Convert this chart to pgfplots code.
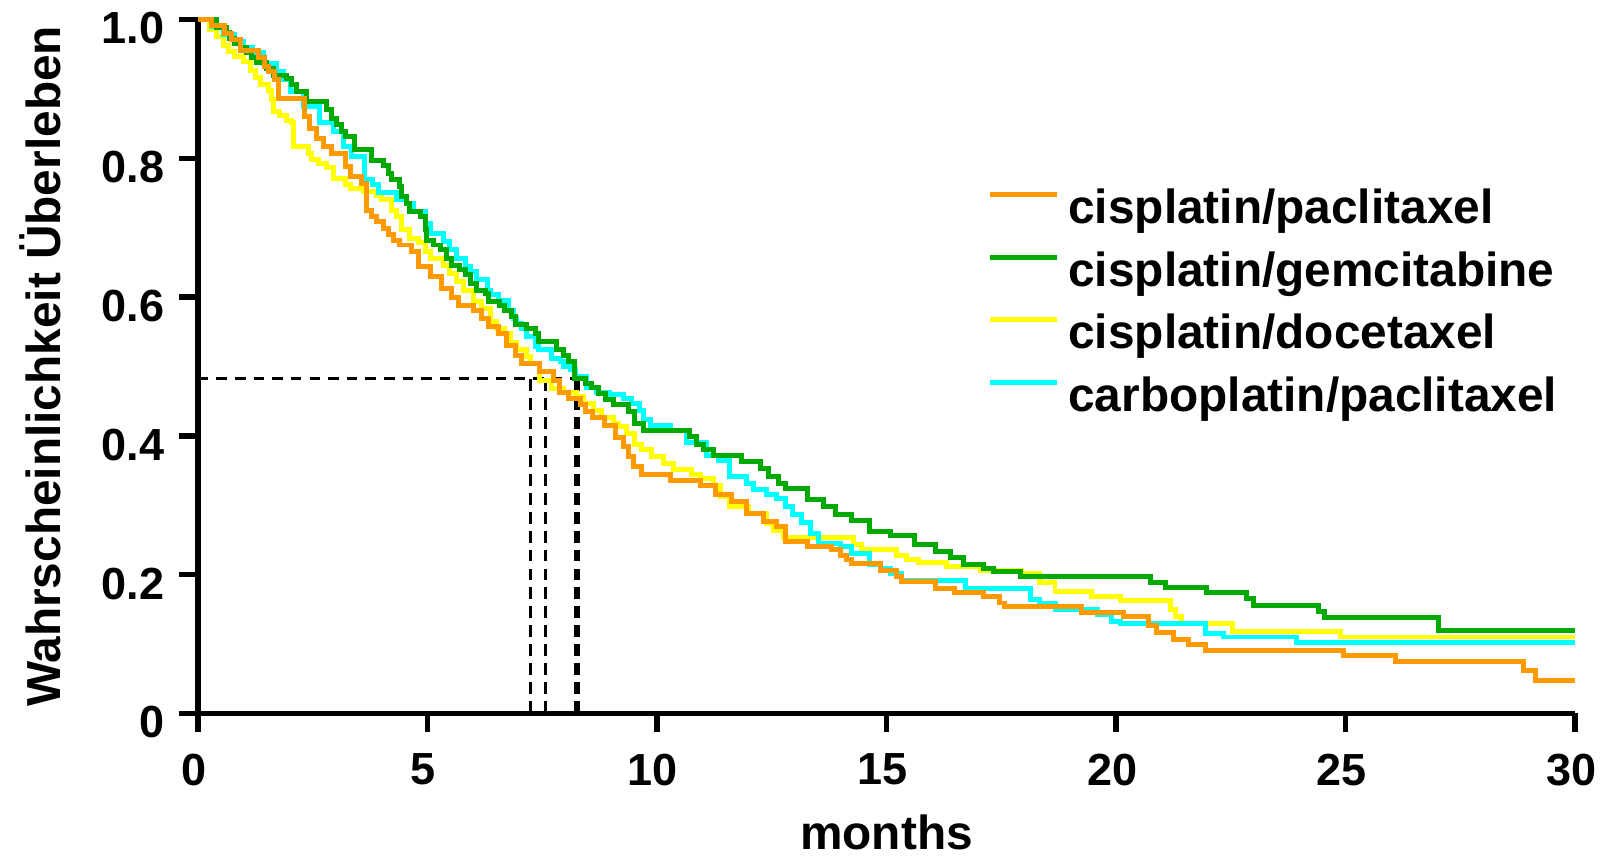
\documentclass[border=0pt]{standalone}
\usepackage{fontspec}
\setmainfont{Liberation Sans}
\usepackage{pgfplots}
\pgfplotsset{compat=1.18}

\definecolor{cporange}{RGB}{255,153,0}
\definecolor{cpgreen}{RGB}{0,170,0}
\definecolor{cpyellow}{RGB}{255,255,0}
\definecolor{cpcyan}{RGB}{0,255,255}

\newcommand{\tickfont}{\fontsize{12.8}{14}\selectfont\bfseries}
\newcommand{\labfont}{\fontsize{13.6}{15}\selectfont\bfseries}

\begin{document}
\begin{tikzpicture}
\path[use as bounding box] (-1.978,-1.427) rectangle (14.092,7.133);
\begin{axis}[
  at={(0,0)}, anchor=south west,
  scale only axis,
  width=13.774cm, height=6.938cm,
  xmin=0, xmax=30, ymin=0, ymax=1,
  axis lines=left,
  axis line style={-, line width=1.56pt, black},
  tick align=outside,
  major tick length=5.4pt,
  tick style={line width=1.56pt, black},
  xtick={0,5,10,15,20,25,30},
  ytick={0,0.2,0.4,0.6,0.8,1},
  yticklabels={0,0.2,0.4,0.6,0.8,1.0},
  xticklabels={0,5,10,15,20,25,30},
  xticklabel style={font=\tickfont, inner sep=0pt, anchor=north, xshift=-0.04cm},
  yticklabel style={font=\tickfont, inner sep=0pt, anchor=east, yshift=-0.09cm},
  xticklabel shift=0.207cm,
  yticklabel shift=0.138cm,
  every axis x label/.style={at={(axis description cs:0.5,-0.197)}, anchor=base, font=\labfont},
  every axis y label/.style={at={(axis description cs:-0.10004,0.5)}, rotate=90, anchor=base, font=\labfont},
  xlabel={months},
  ylabel={Wahrscheinlichkeit Überleben},
  clip=false,
  legend style={at={(0.5726,0.760)}, anchor=north west, draw=none, fill=none,
    inner sep=0pt, row sep=0.165cm, column sep=0.09cm,
    nodes={inner sep=0pt, anchor=west, font=\labfont, text height=0.37cm, text depth=0.09cm}},
  legend cell align=left,
  legend image code/.code={\draw[#1] (0cm,0.15cm) -- (0.672cm,0.15cm);},
  every axis plot/.append style={line width=1.42pt, line join=miter},
]

\addlegendimage{cporange, line width=1.42pt}
\addlegendentry{cisplatin/paclitaxel}
\addlegendimage{cpgreen, line width=1.42pt}
\addlegendentry{cisplatin/gemcitabine}
\addlegendimage{cpyellow, line width=1.42pt}
\addlegendentry{cisplatin/docetaxel}
\addlegendimage{cpcyan, line width=1.42pt}
\addlegendentry{carboplatin/paclitaxel}

% median guide lines
\addplot[black, line width=0.75pt, dash pattern=on 3pt off 2.3pt, forget plot] coordinates {(0,0.483) (8.29,0.483)};
\addplot[black, line width=0.75pt, dash pattern=on 3.4pt off 2pt, forget plot] coordinates {(7.24,0) (7.24,0.483)};
\addplot[black, line width=0.75pt, dash pattern=on 3.4pt off 2pt, forget plot] coordinates {(7.58,0) (7.58,0.483)};
\addplot[black, line width=0.75pt, dash pattern=on 3.4pt off 2pt, forget plot] coordinates {(8.22,0) (8.22,0.483)};
\addplot[black, line width=0.75pt, dash pattern=on 3.4pt off 2pt, forget plot] coordinates {(8.29,0) (8.29,0.483)};

% cisplatin/docetaxel
\addplot[cpyellow, const plot, forget plot] coordinates {
(0,1) (0.25,0.985) (0.41,0.975) (0.56,0.963) (0.67,0.954) (0.80,0.947) (1.00,0.939)
(1.14,0.927) (1.25,0.917) (1.36,0.906) (1.54,0.898) (1.61,0.884) (1.64,0.867) (1.79,0.862)
(1.94,0.855) (2.04,0.851) (2.08,0.817) (2.41,0.807) (2.48,0.798) (2.62,0.793) (2.81,0.786)
(2.95,0.771) (3.21,0.762) (3.32,0.757) (3.61,0.752) (3.90,0.747) (4.00,0.740) (4.22,0.725)
(4.33,0.716) (4.44,0.697) (4.62,0.685) (4.80,0.678) (4.95,0.666) (5.06,0.656) (5.35,0.646)
(5.49,0.634) (5.64,0.622) (5.78,0.610) (6.00,0.593) (6.18,0.584) (6.37,0.565) (6.51,0.555)
(6.69,0.548) (6.80,0.534) (6.95,0.524) (7.16,0.514) (7.24,0.504) (7.45,0.480) (7.71,0.468)
(7.96,0.463) (8.25,0.456) (8.40,0.447) (8.61,0.437) (8.80,0.427) (9.05,0.418) (9.16,0.413)
(9.34,0.403) (9.52,0.387) (9.67,0.380) (9.89,0.370) (10.14,0.360) (10.36,0.351) (10.76,0.344)
(10.94,0.339) (11.23,0.329) (11.38,0.312) (11.59,0.298) (12.00,0.288) (12.39,0.274) (12.54,0.264)
(12.76,0.253) (14.28,0.243) (14.46,0.236) (15.22,0.228) (15.44,0.222) (15.70,0.217) (16.31,0.211)
(17.04,0.206) (17.94,0.201) (18.34,0.188) (18.67,0.175) (19.47,0.168) (20.09,0.162) (21.18,0.150)
(21.29,0.139) (21.43,0.129) (22.53,0.118) (24.88,0.110) (30,0.110)
};

% carboplatin/paclitaxel
\addplot[cpcyan, const plot, forget plot] coordinates {
(0,1) (0.30,0.990) (0.55,0.978) (0.80,0.968) (1.00,0.960) (1.20,0.952) (1.43,0.937)
(1.72,0.925) (1.86,0.913) (2.01,0.896) (2.30,0.874) (2.66,0.851) (2.95,0.838) (3.17,0.817)
(3.35,0.803) (3.64,0.769) (3.80,0.762) (3.93,0.750) (4.33,0.740) (4.55,0.735) (4.70,0.723)
(4.95,0.706) (5.06,0.692) (5.35,0.680) (5.49,0.668) (5.64,0.656) (5.82,0.644) (5.93,0.637)
(6.07,0.625) (6.30,0.610) (6.37,0.603) (6.55,0.595) (6.77,0.581) (6.87,0.569) (6.94,0.562)
(7.05,0.555) (7.16,0.543) (7.35,0.529) (7.42,0.524) (7.71,0.512) (7.89,0.507) (7.96,0.500)
(8.11,0.495) (8.22,0.485) (8.47,0.470) (8.69,0.463) (8.97,0.459) (9.27,0.454) (9.45,0.447)
(9.63,0.437) (9.70,0.423) (9.85,0.415) (10.29,0.408) (10.65,0.391) (11.09,0.372) (11.34,0.365)
(11.59,0.341) (11.96,0.331) (12.10,0.322) (12.39,0.315) (12.60,0.310) (12.80,0.298) (12.95,0.286)
(13.15,0.275) (13.35,0.259) (13.52,0.245) (13.99,0.240) (14.24,0.231) (14.64,0.214) (14.86,0.209)
(15.08,0.202) (15.33,0.192) (16.71,0.180) (18.13,0.164) (18.34,0.159) (18.68,0.149) (19.60,0.142)
(19.91,0.132) (20.09,0.130) (21.94,0.115) (22.34,0.110) (23.94,0.102) (30,0.102)
};

% cisplatin/gemcitabine
\addplot[cpgreen, const plot, forget plot] coordinates {
(0,1) (0.41,0.988) (0.63,0.981) (0.70,0.973) (0.81,0.966) (0.92,0.959) (1.06,0.952)
(1.17,0.945) (1.28,0.938) (1.50,0.930) (1.64,0.920) (1.94,0.915) (2.04,0.906) (2.15,0.896)
(2.37,0.882) (2.81,0.870) (2.92,0.858) (3.02,0.848) (3.13,0.838) (3.21,0.831) (3.42,0.812)
(3.79,0.797) (4.04,0.790) (4.15,0.778) (4.22,0.769) (4.40,0.759) (4.44,0.745) (4.55,0.735)
(4.62,0.723) (4.84,0.716) (4.95,0.697) (4.99,0.682) (5.13,0.675) (5.28,0.668) (5.42,0.656)
(5.53,0.646) (5.71,0.639) (5.82,0.632) (5.93,0.620) (6.07,0.610) (6.26,0.605) (6.33,0.593)
(6.58,0.588) (6.69,0.581) (6.84,0.572) (6.91,0.560) (7.16,0.555) (7.35,0.548) (7.42,0.536)
(7.82,0.524) (7.96,0.516) (8.08,0.507) (8.20,0.483) (8.44,0.476) (8.58,0.469) (8.72,0.461)
(8.87,0.452) (9.05,0.445) (9.38,0.435) (9.52,0.418) (9.70,0.408) (10.72,0.399) (10.87,0.387)
(11.01,0.380) (11.23,0.372) (11.85,0.363) (12.25,0.353) (12.43,0.341) (12.64,0.331) (12.79,0.324)
(13.27,0.308) (13.63,0.298) (13.88,0.286) (14.24,0.278) (14.64,0.262) (15.08,0.256) (15.62,0.243)
(16.06,0.233) (16.40,0.224) (16.68,0.215) (17.11,0.209) (17.33,0.204) (17.91,0.197) (20.74,0.188)
(21.07,0.182) (21.97,0.174) (22.85,0.165) (22.99,0.156) (24.41,0.147) (24.55,0.138) (27.02,0.119)
(30,0.119)
};

% cisplatin/paclitaxel
\addplot[cporange, const plot, forget plot] coordinates {
(0,1) (0.30,0.991) (0.59,0.980) (0.74,0.971) (0.92,0.956) (1.32,0.945) (1.45,0.932)
(1.54,0.925) (1.68,0.913) (1.75,0.886) (2.33,0.860) (2.44,0.843) (2.59,0.829) (2.73,0.817)
(2.91,0.807) (3.21,0.788) (3.32,0.774) (3.57,0.764) (3.68,0.725) (3.79,0.716) (3.90,0.709)
(4.04,0.699) (4.15,0.690) (4.26,0.682) (4.40,0.675) (4.66,0.665) (4.80,0.644) (5.06,0.629)
(5.31,0.612) (5.53,0.600) (5.67,0.588) (6.00,0.581) (6.18,0.569) (6.33,0.557) (6.55,0.548)
(6.73,0.530) (6.91,0.516) (7.06,0.504) (7.45,0.492) (7.75,0.480) (7.87,0.463) (8.07,0.454)
(8.33,0.445) (8.45,0.435) (8.60,0.427) (8.85,0.415) (9.10,0.397) (9.27,0.384) (9.38,0.370)
(9.49,0.356) (9.67,0.344) (10.29,0.336) (10.94,0.329) (11.27,0.315) (11.63,0.305) (11.96,0.288)
(12.32,0.276) (12.61,0.269) (12.79,0.247) (13.27,0.241) (13.81,0.236) (13.99,0.228) (14.13,0.221)
(14.24,0.216) (14.86,0.206) (15.22,0.197) (15.33,0.190) (16.06,0.180) (16.49,0.174) (17.11,0.168)
(17.47,0.159) (17.58,0.154) (19.25,0.146) (20.16,0.139) (20.70,0.126) (20.89,0.116) (21.25,0.107)
(21.58,0.099) (21.94,0.091) (24.95,0.084) (26.08,0.075) (28.87,0.062) (29.13,0.047) (30,0.047)
};

\end{axis}
\end{tikzpicture}
\end{document}
